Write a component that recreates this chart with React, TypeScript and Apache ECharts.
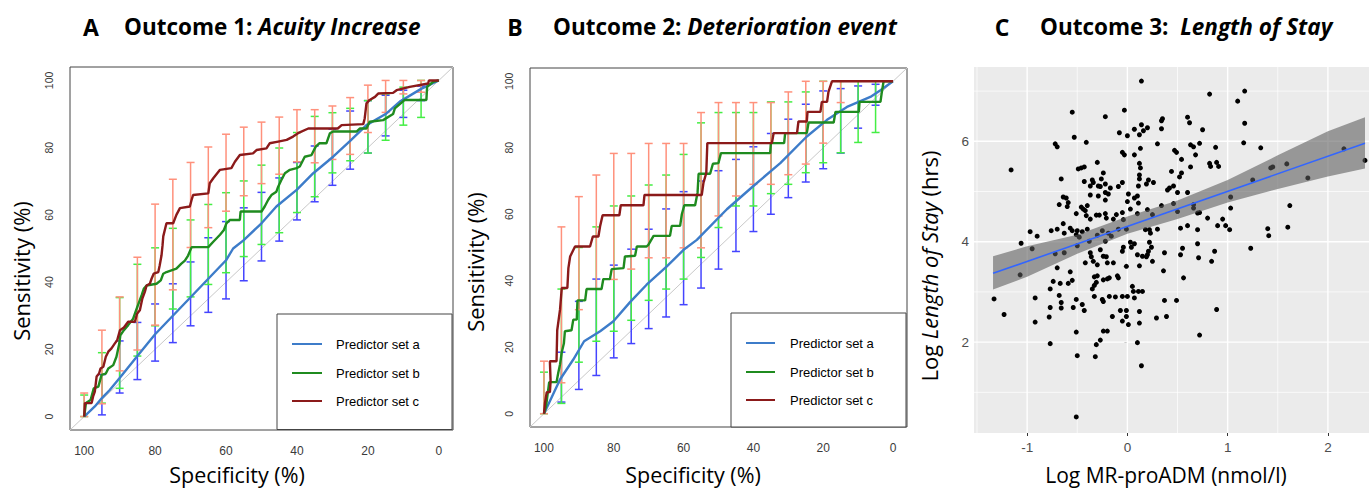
import React, { useEffect, useRef } from "react";
import * as echarts from "echarts";

// ---------- DATA ----------
const rocTicks = [0, 20, 40, 60, 80, 100];
const diagonal = [[104, -4], [-4, 104]];

// Panel A: Outcome 1 (Acuity Increase) — [specificity, sensitivity]
const aBlue = [[100,0],[97,3],[95,5.5],[92.8,7.9],[90,11.5],[85,18],[80,24.5],[75,30],[70,35.5],[65,41],[60,46.5],[58,50],[55,52.5],[50,57.5],[45.8,62.5],[40,67.5],[35.4,72.4],[29.8,77.3],[25,82],[20.4,86.7],[15,90],[11,93.7],[5,97.5],[0,100]];
const aGreen = [[100,0],[99.5,4],[98.2,4.9],[97.3,8.4],[96,8.9],[95.1,12.4],[93.9,12.8],[93.2,14.3],[91.8,15.3],[90.9,17.8],[90.1,21.7],[89.8,24.2],[88.8,25.7],[87.6,27.2],[86.2,29.1],[85.2,32.1],[83.8,36.1],[83.2,38],[82.4,39],[79.6,39.5],[78.4,40.5],[77.7,42.5],[76.8,43],[74,44],[72.6,45.5],[71.6,46.4],[70.7,47.9],[69.7,50.4],[65,50.4],[63.6,52],[61.7,54.1],[60.6,55.5],[59.9,57.5],[58.9,58.5],[56.1,58.5],[55.9,61],[50,61],[49.1,62.5],[48.1,64.5],[47.2,65.9],[45.8,66.9],[45.3,68.4],[44.4,70.4],[43.4,72.4],[42,73.4],[40.1,73.9],[39.2,74.4],[37.8,77.3],[35.9,77.8],[34.7,80.3],[33.7,81.3],[31.7,81.3],[30.7,84.3],[29.8,84.8],[23.2,84.8],[22.3,85.7],[20.4,85.7],[19.5,87.7],[15.7,88.2],[12.9,90],[12.4,91.7],[9.6,94.2],[3.5,94.2],[3.3,98.1],[1.6,99.6],[0,100]];
const aRed = [[100,0],[99.8,4],[97.9,4],[97.5,5.9],[97,7.4],[96.5,11.9],[95.8,12.8],[95.4,14.3],[94.6,14.8],[93.9,17.8],[93.2,19.3],[92.3,20.3],[91.4,21.7],[90.7,22.7],[89.9,25.7],[88.8,26.5],[87.6,28.2],[85.7,28.2],[85.1,30.6],[84.3,31.6],[83.6,35.1],[82.9,37.1],[82.4,39],[81.5,39.5],[81,41],[80.4,42.5],[79.1,43],[78.7,45],[78.2,47.9],[77.9,51],[77.7,53.6],[76.8,57.5],[74.9,57.5],[74,60],[73,62],[70.2,62.5],[69.7,64.5],[69.3,65.9],[65,66.4],[64.6,69.4],[63.6,70.9],[61.7,73.4],[58.5,73.9],[57.5,75.8],[56.1,77.8],[52.4,78.3],[51.4,79.3],[48.6,79.8],[47.7,81.3],[45.3,81.8],[42.9,82.3],[41.1,83.3],[39.7,84.3],[36.8,85.7],[28.5,85.7],[27.4,86.7],[21.3,87],[20.9,88.7],[20.4,93.2],[19.5,94.2],[18,95.1],[17.1,96.1],[12.9,96.3],[11.9,97.1],[8.2,98.1],[3,99.1],[2.8,100],[0,100]];
// CI bars: [specificity, low, high]
const aBlueCI = [[95,0.5,12.5],[90,7,22.5],[85,11,28],[80,16.5,33.5],[75,22,39.5],[70,27,46],[65,31,53.2],[60,35,58],[55,40.4,62.1],[50,46.3,66.7],[45,52.2,71],[40,58.5,75.6],[35,63.9,80.5],[30,68.8,85.5],[25,73.6,90.9],[20,78.4,94],[15,83.5,95.6],[10,89,97.1],[5,94,98.3]];
const aGreenCI = [[100,0,6.4],[95,4,19],[90,8.4,35.4],[85,18,45.3],[80,27,50.2],[75,32,56],[70,35.6,58.5],[65,39.3,63.1],[60,42.8,66.6],[55,47.6,70.1],[50,51.2,74.8],[45,54.7,79.9],[40,60.7,84.5],[35,65.4,89.3],[30,72.5,90.4],[25,76.1,91.7],[20,78.4,94],[15,82.2,96],[10,86.7,98],[5,89,100]];
const aRedCI = [[100,0,7],[95,3.8,25.7],[90,13.6,35.6],[85,19.8,47.4],[80,27.2,63.2],[75,37.7,70.6],[70,50.3,75.6],[65,56.2,80.2],[60,61.1,84],[55,65.7,86.1],[50,69.3,87.6],[45,72.1,89.1],[40,75.8,91.3],[35,75.5,91.3],[30,76.5,92.4],[25,78,94.9],[20,84.5,98.6],[15,90.5,100],[10,96,100],[5,96.5,100]];

// Panel B: Outcome 2 (Deterioration event)
const bBlue = [[100,0],[95.4,10.3],[91.6,16.3],[88.5,21.8],[83.9,24.8],[80.1,27.8],[75.4,33.5],[70.6,38.8],[64.8,44.3],[60,49.3],[56.2,52.3],[47.6,61.5],[40,68.5],[32.3,75.4],[24.7,83.4],[18.9,88.4],[13.2,92.3],[6.5,95.3],[3.6,97.3],[0,100]];
const bGreen = [[100,0],[99.4,2.3],[98.5,9.5],[96.4,9.5],[95.9,12.3],[95.4,14.8],[94.9,18.5],[94.3,21.1],[94,24.8],[92.1,25.1],[91.6,28.3],[90.6,28.3],[90.4,34.1],[88.2,34.1],[87.8,37.5],[83.5,37.5],[83,40.5],[81.1,40.5],[80.6,43.5],[77.2,43.8],[76.8,47.3],[73.9,47.5],[73.4,50.3],[70.6,50.3],[70.1,50.8],[68.6,53.5],[63.9,53.5],[63.4,56.5],[61,56.5],[60.5,60],[59.8,62.7],[56.7,62.7],[56,66.5],[55.7,72.2],[52.4,72.2],[51.6,75.2],[50,75.4],[49.3,78.4],[35.2,78.4],[35,81.4],[31.2,81.4],[30.9,84.4],[24.7,84.4],[24.2,87.6],[17,87.6],[16.5,90.8],[9.8,90.8],[9.6,93.8],[3.6,93.8],[3.2,96.8],[2.7,100],[0,100]];
const bRed = [[100,0],[99.7,3.3],[99.2,6.5],[98.3,6.5],[98.1,9.8],[98.3,15.8],[96.4,15.8],[96.2,25.1],[95.4,31.3],[94.9,37.8],[93.3,37.8],[93,43.8],[92.5,47.3],[91.1,50.3],[86.8,50.3],[86,53.3],[84.4,53.3],[83.9,56.5],[83.2,59.7],[78.4,59.7],[78,62.7],[71.5,62.7],[71.2,65.8],[54.8,65.8],[54.3,69.5],[53.5,72.4],[53.2,81.4],[34.7,81.4],[34.2,84.4],[27.5,84.4],[27.1,87.9],[24.7,87.9],[24.5,90.8],[20.8,90.8],[20.4,93.8],[18.9,93.8],[18.5,96.8],[17.5,100],[0,100]];
const bBlueCI = [[95,3.5,18.5],[90,7.3,33.8],[85,11.5,40.5],[80,16.8,44.7],[75,21.1,49.5],[70,25.6,55.5],[65,29.1,61.6],[60,32.8,66.8],[55,37.8,70],[50,43.5,73.1],[45,48.8,76.5],[40,54.8,80.3],[35,60,84.3],[30,65,88.6],[25,69.7,93.1],[20,73.7,97.1],[15,78.4,97.8],[10,85.9,98.6],[5,92.8,99.1]];
const bGreenCI = [[100,0,12.5],[95,3.1,37.5],[90,15.5,50],[85,21.8,56.2],[80,24.8,62.5],[75,28.1,65.5],[70,34.1,68.8],[65,37.5,71.8],[60,40.5,78],[55,47,87.5],[50,56,90.6],[45,62.5,90.6],[40,62.5,90.6],[35,66.2,93.8],[30,69,93.8],[25,72.5,96.8],[20,75.5,100],[15,78.5,100],[10,81.6,100],[5,84.6,100]];
const bRedCI = [[100,0,15.8],[95,9.3,56.2],[90,31.3,65.3],[85,37.5,71.8],[80,40.4,78.3],[75,43.5,78.3],[70,46.9,81.3],[65,46.9,81.3],[60,49.9,81.3],[55,49.9,90.6],[50,59.5,93.6],[45,65.5,93.6],[40,69,93.6],[35,69,93.6],[30,71.9,96.8],[25,75.1,100],[20,81.4,100],[15,93.6,100]];

const legendNames = ["Predictor set a", "Predictor set b", "Predictor set c"];

// Panel C: Length of stay vs MR-proADM — [log MR-proADM, log LOS]
const cXTicks = [-1, 0, 1, 2];
const cXMinor = [-1.5, -0.5, 0.5, 1.5];
const cYTicks = [2, 4, 6];
const cYMinor = [1, 3, 5, 7];
const losPoints = [
[0.14,7.20],[0.82,6.94],[1.17,7.00],[1.10,6.80],[-0.55,6.58],[-0.03,6.62],[-0.22,6.49],[0.60,6.48],[0.62,6.37],[1.17,6.36],[0.35,6.45],[0.34,6.41],[0.14,6.33],[0.20,6.27],[0.16,6.21],[0.07,6.24],[0.34,6.25],[0.75,6.23],[-0.08,6.17],[0.00,6.11],[0.12,6.13],[-0.53,6.08],[1.16,5.97],
[1.33,5.87],[2.16,5.85],[2.37,5.62],[1.45,5.49],[1.43,5.47],[1.59,5.55],[1.25,5.23],[1.80,5.27],[1.62,4.72],[1.40,4.26],[1.41,4.12],[1.60,4.29],[1.23,3.87],
[-0.51,0.51],[-0.50,1.73],[-0.32,1.71],[0.14,1.53],
[-0.72,5.95],[-0.70,5.89],[-0.41,5.98],[-1.16,5.43],[-0.30,5.58],[-0.49,5.45],[-0.46,5.47],[-0.43,5.49],[-0.24,5.37],[-0.66,5.25],[-0.43,5.20],[-0.35,5.23],[-0.34,5.18],[-0.26,5.25],[-0.37,5.11],[-0.29,5.11],[-0.27,5.10],[-0.22,5.15],[-0.17,5.07],[-0.09,5.10],[-0.22,4.98],[-0.19,4.95],[-0.37,4.93],[-0.29,4.91],[-0.22,4.83],[-0.64,4.89],[-0.61,4.87],[-0.59,4.78],[-0.60,4.70],[-0.68,4.74],[-0.46,4.69],[-0.44,4.65],[-0.40,4.72],[-0.42,4.62],[-0.51,4.56],[-0.41,4.52],[-0.37,4.45],[-0.31,4.53],[-0.28,4.53],[-0.22,4.56],[-0.21,4.47],[-0.14,4.45],[-0.11,4.54],[-0.64,4.36],[-0.70,4.25],[-0.76,4.22],[-0.57,4.27],[-0.55,4.22],[-0.97,4.20],[-0.90,4.11],[-0.63,4.17],[-0.50,4.22],[-0.51,4.14],[-0.45,4.20],[-0.40,4.25],[-0.48,4.09],[-1.06,3.97],[-0.95,3.86],[-0.30,4.13],[-0.25,4.22],[-0.19,4.17],[-0.16,4.11],[-0.09,4.25],[-0.38,4.01],[-0.37,3.78],[-0.36,3.70],[-0.50,3.92],[-0.27,3.84],[-0.24,3.71],[-0.21,3.70],[-0.63,3.78],[-0.72,3.76],[-0.22,4.01],
[0.30,5.95],[0.63,5.93],[0.66,5.89],[0.72,5.96],[-0.05,5.78],[-0.03,5.73],[0.07,5.73],[0.13,5.86],[0.47,5.82],[0.49,5.78],[0.54,5.64],[0.68,5.73],[0.88,5.88],[0.82,5.56],[0.83,5.50],[0.89,5.58],[0.91,5.50],[0.12,5.56],[0.13,5.47],[0.12,5.33],[0.12,5.25],[0.63,5.49],[0.44,5.40],[0.54,5.37],[0.52,5.29],[0.21,5.23],[0.26,5.18],[0.19,5.15],[0.11,5.11],[-0.05,5.18],[0.40,5.03],[0.42,5.07],[0.46,5.11],[0.50,4.98],[0.60,4.98],[0.01,4.95],[0.00,4.80],[0.07,4.87],[0.10,4.91],[0.11,4.77],[0.03,4.65],[0.10,4.56],[-0.05,4.58],[-0.04,4.44],[0.20,4.64],[0.34,4.72],[0.46,4.76],[0.50,4.60],[0.66,4.74],[0.66,4.67],[0.70,4.57],[0.72,4.58],[0.25,4.54],[0.80,4.47],[0.95,4.45],[0.90,4.32],[1.03,4.67],[1.03,4.89],[0.98,4.32],[1.02,4.24],[0.18,4.24],[0.22,4.24],[0.23,4.17],[0.30,4.25],[0.53,4.27],[0.60,4.32],[0.70,4.24],[-0.01,4.25],[0.03,3.99],[0.07,3.96],[0.04,3.89],[0.22,3.99],[0.24,3.89],[0.21,3.81],[0.20,3.74],[-0.04,3.89],[-0.05,3.81],[0.10,3.74],[0.15,3.71],[0.19,3.70],[0.37,3.78],[0.55,3.87],[0.70,3.96],[0.53,3.74],[0.87,3.81],[0.71,3.68],
[-0.42,3.58],[-0.34,3.61],[-0.30,3.54],[-0.20,3.58],[-0.70,3.48],[-1.07,3.34],[-0.57,3.40],[-0.74,3.21],[-0.67,3.17],[-0.59,3.17],[-0.55,3.23],[-0.33,3.30],[-0.30,3.32],[-0.31,3.19],[-0.33,3.13],[-0.35,3.06],[-0.24,3.24],[-0.20,3.26],[-0.18,3.28],[-0.77,3.06],[-1.33,2.86],[-0.92,2.88],[-0.68,2.93],[-0.66,2.79],[-0.66,2.68],[-0.51,2.85],[-0.45,2.75],[-0.43,2.63],[-0.54,2.69],[-0.33,2.91],[-0.25,2.85],[-0.24,2.81],[-0.18,2.91],[-0.77,2.69],[-1.23,2.55],[-0.92,2.40],[-0.78,2.50],[-0.51,2.20],[-0.24,2.22],[-0.20,2.22],[-0.77,1.97],[-0.31,1.95],[-0.27,2.04],
[0.84,3.61],[-0.14,3.58],[-0.01,3.51],[0.12,3.52],[0.25,3.61],[0.36,3.42],[-0.10,3.32],[-0.09,3.28],[0.56,3.28],[0.05,3.11],[0.06,3.01],[0.11,3.01],[0.15,3.01],[-0.12,2.90],[-0.05,2.91],[0.00,2.91],[0.07,2.88],[0.37,2.83],[0.49,2.83],[0.89,2.65],[-0.07,2.63],[-0.01,2.63],[0.12,2.61],[-0.15,2.51],[-0.01,2.51],[-0.05,2.42],[0.01,2.35],[0.12,2.38],[0.29,2.48],[0.39,2.51],[0.72,2.14],[0.10,1.99]
];
const fitLine = [[-1.34, 3.37], [2.37, 5.96]];
const bandX = [-1.34, -1, -0.5, 0, 0.5, 1, 1.5, 2, 2.37];
const bandLo = [3.05, 3.30, 3.76, 4.16, 4.45, 4.78, 5.05, 5.30, 5.46];
const bandHi = [3.71, 3.91, 4.14, 4.50, 4.82, 5.23, 5.72, 6.20, 6.48];

// ---------- STYLE ----------
const FT = "'Open Sans', 'Noto Sans', sans-serif";
const FL = "'Liberation Sans', Arial, sans-serif";
const C_BLUE = "#3d7cc9", C_GREEN = "#1f8b1f", C_RED = "#8b1a1a";
const CI_BLUE = "#4444ff", CI_GREEN = "#44ee44", CI_RED = "#ff917c";

function ciSeries(data: number[][], color: string, idx: number) {
  return {
    type: "custom", xAxisIndex: idx, yAxisIndex: idx, data, z: 2, silent: true,
    encode: { x: 0, y: [1, 2] },
    renderItem: (_p: any, api: any) => {
      const s = api.value(0), lo = api.value(1), hi = api.value(2);
      const a = api.coord([s, lo]);
      const b = api.coord([s, hi]);
      const st = { stroke: color, lineWidth: 1.5 };
      return {
        type: "group",
        children: [
          { type: "line", shape: { x1: a[0], y1: a[1], x2: b[0], y2: b[1] }, style: st },
          { type: "line", shape: { x1: a[0] - 4, y1: a[1], x2: a[0] + 4, y2: a[1] }, style: st },
          { type: "line", shape: { x1: b[0] - 4, y1: b[1], x2: b[0] + 4, y2: b[1] }, style: st },
        ],
      };
    },
  };
}
function curve(name: string, data: number[][], color: string, idx: number) {
  return {
    type: "line", name, xAxisIndex: idx, yAxisIndex: idx, data, symbol: "none", showSymbol: false,
    lineStyle: { color, width: 2.4 }, itemStyle: { color }, z: 3, silent: true,
  };
}
function diag(idx: number) {
  return {
    type: "line", xAxisIndex: idx, yAxisIndex: idx, data: diagonal, symbol: "none",
    lineStyle: { color: "#c8c8c8", width: 1 }, z: 1, silent: true,
  };
}
function rocX(idx: number) {
  return {
    gridIndex: idx, type: "value", min: -4, max: 104, inverse: true,
    axisLine: { show: false }, splitLine: { show: false },
    axisTick: { show: false, customValues: rocTicks },
    axisLabel: { customValues: rocTicks, fontSize: 12, color: "#3a3a3a", fontFamily: FL, margin: 15 },
  };
}
function rocY(idx: number) {
  return {
    gridIndex: idx, type: "value", min: -4, max: 104,
    axisLine: { show: false }, splitLine: { show: false },
    axisTick: { show: false, customValues: rocTicks },
    axisLabel: { customValues: rocTicks, rotate: 90, fontSize: 10.5, color: "#3a3a3a", fontFamily: FL, margin: 16 },
  };
}
function txt(x: number, y: number, text: string, size: number, extra: any = {}) {
  return {
    type: "text", x, y, z: 100, rotation: extra.rotation || 0, silent: true,
    style: {
      text, fontSize: size, fontFamily: extra.family || FT, fontWeight: extra.weight || "normal",
      fill: "#000", align: extra.align || "center", verticalAlign: "middle",
    },
  };
}
function legend(x: number, y: number, w: number, h: number, lx1: number, lx2: number, tx: number, ys: number[]) {
  const cols = [C_BLUE, C_GREEN, C_RED];
  const els: any[] = [
    { type: "rect", z: 90, silent: true, shape: { x, y, width: w, height: h }, style: { fill: "#fff", stroke: "#444", lineWidth: 1 } },
  ];
  ys.forEach((yy, i) => {
    els.push({ type: "line", z: 100, silent: true, shape: { x1: lx1, y1: yy, x2: lx2, y2: yy }, style: { stroke: cols[i], lineWidth: 2 } });
    els.push(txt(tx, yy, legendNames[i], 13, { family: FL, align: "left" }));
  });
  return els;
}
function title(textX: number, plain: string, ital: string) {
  const base = { fontFamily: FT, fontWeight: "bold", fontSize: 22.5, fill: "#000" };
  return {
    type: "text", x: textX, y: 26.5, z: 100, silent: true,
    style: {
      text: `{n|${plain}}{i|${ital}}`, fontSize: 22.5, fontFamily: FT, fontWeight: "bold",
      align: "left", verticalAlign: "middle",
      rich: { n: { ...base }, i: { ...base, fontStyle: "italic" } },
    },
  };
}

export default function App() {
  const ref = useRef<HTMLDivElement>(null);
  useEffect(() => {
    if (!ref.current) return;
    const chart = echarts.init(ref.current, undefined, { renderer: "svg" });
    const option: any = {
      animation: false,
      backgroundColor: "#ffffff",
      grid: [
        { left: 70, top: 67, width: 383, height: 363, show: true, borderColor: "#444", borderWidth: 1, backgroundColor: "#fff" },
        { left: 530, top: 68, width: 377, height: 359, show: true, borderColor: "#444", borderWidth: 1, backgroundColor: "#fff" },
        { left: 974, top: 67, width: 395, height: 366, show: true, borderWidth: 0, backgroundColor: "#ebebeb" },
      ],
      xAxis: [
        rocX(0), rocX(1),
        {
          gridIndex: 2, type: "value", min: -1.53, max: 2.41,
          axisLine: { show: false }, splitLine: { show: false },
          axisTick: { show: true, length: 3, lineStyle: { color: "#333", width: 1 }, customValues: cXTicks },
          axisLabel: { customValues: cXTicks, color: "#4d4d4d", fontSize: 13.5, fontFamily: FL, margin: 7 },
        },
      ],
      yAxis: [
        rocY(0), rocY(1),
        {
          gridIndex: 2, type: "value", min: 0.19, max: 7.48,
          axisLine: { show: false }, splitLine: { show: false },
          axisTick: { show: true, length: 3, lineStyle: { color: "#333", width: 1 }, customValues: cYTicks },
          axisLabel: { customValues: cYTicks, color: "#4d4d4d", fontSize: 13.5, fontFamily: FL, margin: 5 },
        },
      ],
      series: [
        diag(0),
        ciSeries(aBlueCI, CI_BLUE, 0), ciSeries(aGreenCI, CI_GREEN, 0), ciSeries(aRedCI, CI_RED, 0),
        curve(legendNames[0], aBlue, C_BLUE, 0), curve(legendNames[1], aGreen, C_GREEN, 0), curve(legendNames[2], aRed, C_RED, 0),
        diag(1),
        ciSeries(bBlueCI, CI_BLUE, 1), ciSeries(bGreenCI, CI_GREEN, 1), ciSeries(bRedCI, CI_RED, 1),
        curve(legendNames[0], bBlue, C_BLUE, 1), curve(legendNames[1], bGreen, C_GREEN, 1), curve(legendNames[2], bRed, C_RED, 1),
        {
          // ggplot panel grid lines (major + minor) drawn below the points
          type: "custom", xAxisIndex: 2, yAxisIndex: 2, data: [[0, 4]], z: 1, silent: true,
          encode: { x: 0, y: 1 },
          renderItem: (params: any, api: any) => {
            const cs = params.coordSys;
            const children: any[] = [];
            const addX = (vals: number[], w: number) => vals.forEach((v) => {
              const p = api.coord([v, 4]);
              children.push({ type: "line", shape: { x1: p[0], y1: cs.y, x2: p[0], y2: cs.y + cs.height }, style: { stroke: "#fff", lineWidth: w } });
            });
            const addY = (vals: number[], w: number) => vals.forEach((v) => {
              const p = api.coord([0, v]);
              children.push({ type: "line", shape: { x1: cs.x, y1: p[1], x2: cs.x + cs.width, y2: p[1] }, style: { stroke: "#fff", lineWidth: w } });
            });
            addX(cXMinor, 0.7); addY(cYMinor, 0.7); addX(cXTicks, 1.4); addY(cYTicks, 1.4);
            return { type: "group", children };
          },
        },
        {
          type: "scatter", xAxisIndex: 2, yAxisIndex: 2, data: losPoints, symbolSize: 5,
          itemStyle: { color: "#000", opacity: 1 }, z: 2, silent: true,
        },
        {
          type: "custom", xAxisIndex: 2, yAxisIndex: 2, data: [[0, 4]], z: 3, silent: true,
          encode: { x: 0, y: 1 },
          renderItem: (_p: any, api: any) => {
            const pts: number[][] = [];
            bandX.forEach((x, i) => pts.push(api.coord([x, bandHi[i]])));
            for (let i = bandX.length - 1; i >= 0; i--) pts.push(api.coord([bandX[i], bandLo[i]]));
            return { type: "polygon", shape: { points: pts }, style: { fill: "#5a5a5a", opacity: 0.58 } };
          },
        },
        {
          type: "line", xAxisIndex: 2, yAxisIndex: 2, data: fitLine, symbol: "none",
          lineStyle: { color: "#3366ff", width: 1.6 }, z: 4, silent: true,
        },
      ],
      graphic: {
        elements: [
          txt(91, 26.5, "A", 23, { weight: "bold" }),
          txt(515, 26.5, "B", 23, { weight: "bold" }),
          txt(1002, 26.5, "C", 23, { weight: "bold" }),
          title(124, "Outcome 1: ", "Acuity Increase"),
          title(553, "Outcome 2: ", "Deterioration event"),
          title(1040, "Outcome 3:  ", "Length of Stay"),
          txt(237, 474.5, "Specificity (%)", 21.5),
          txt(693, 474.5, "Specificity (%)", 21.5),
          txt(20.5, 271, "Sensitivity (%)", 22, { rotation: Math.PI / 2 }),
          txt(474.5, 262, "Sensitivity (%)", 22, { rotation: Math.PI / 2 }),
          txt(1166, 475, "Log MR-proADM (nmol/l)", 21),
          {
            type: "text", x: 928.5, y: 266, rotation: Math.PI / 2, z: 100, silent: true,
            style: {
              text: "{a|Log }{b|Length of Stay}{a| (hrs)}", fontSize: 22, fontFamily: FT,
              align: "center", verticalAlign: "middle",
              rich: {
                a: { fontSize: 22, fontFamily: FT, fill: "#000" },
                b: { fontSize: 22, fontFamily: FT, fontStyle: "italic", fill: "#000" },
              },
            },
          },
          ...legend(277, 314, 175, 115.5, 292, 322, 336, [344, 373, 401]),
          ...legend(731, 313, 175, 114, 746, 775, 790, [343, 372, 400]),
        ],
      },
    };
    chart.setOption(option);
    return () => chart.dispose();
  }, []);
  return <div ref={ref} style={{ position: "absolute", left: 0, top: 0, width: 1369, height: 490 }} />;
}
